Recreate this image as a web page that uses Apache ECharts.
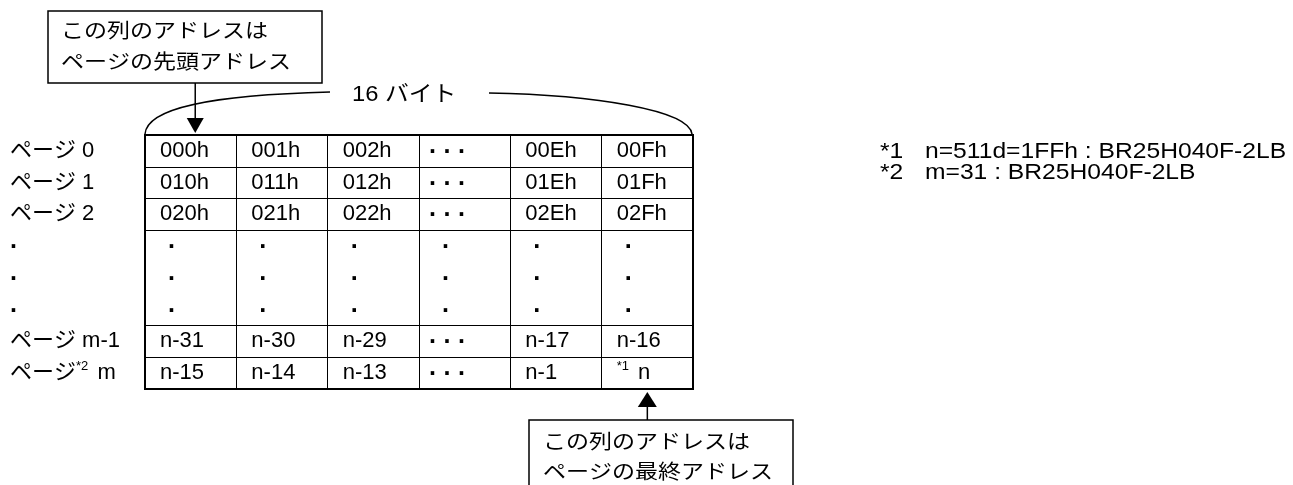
<!DOCTYPE html>
<html>
<head>
<meta charset="utf-8">
<script src="https://cdn.jsdelivr.net/npm/echarts@6/dist/echarts.min.js"></script>
<style>html,body{margin:0;padding:0;background:#fff}#c{width:1293px;height:485px}</style>
</head>
<body>
<div id="c"></div>
<script>
// ---- data ----
const columns = ['col0', 'col1', 'col2', 'col3', 'col4', 'col5'];
const rowLabels = ['ページ 0', 'ページ 1', 'ページ 2', '·', '·', '·', 'ページ m-1', 'ページ*2 m'];
const row0 = ['000h', '001h', '002h', '· · ·', '00Eh', '00Fh'];
const row1 = ['010h', '011h', '012h', '· · ·', '01Eh', '01Fh'];
const row2 = ['020h', '021h', '022h', '· · ·', '02Eh', '02Fh'];
const rowDots = ['·', '·', '·', '·', '·', '·'];
const rowM1 = ['n-31', 'n-30', 'n-29', '· · ·', 'n-17', 'n-16'];
const rowM = ['n-15', 'n-14', 'n-13', '· · ·', 'n-1', '*1 n'];
const cellRows = [row0, row1, row2, rowDots, rowDots, rowDots, rowM1, rowM];
const topNote = ['この列のアドレスは', 'ページの先頭アドレス'];
const bottomNote = ['この列のアドレスは', 'ページの最終アドレス'];
const spanLabel = '16 バイト';
const footnotes = [['*1', 'n=511d=1FFh : BR25H040F-2LB'], ['*2', 'm=31 : BR25H040F-2LB']];

// ---- layout ----
const FONT = "'Liberation Sans', 'Noto Sans CJK JP', Arial, sans-serif";
const G = { left: 145, top: 135, width: 548, height: 254 };
const cw = G.width / columns.length;
const hiddenSplits = [4, 5]; // no line between the three dotted sub-rows

const cellData = [];
const cellTexts = [];
cellRows.forEach((row, r) => row.forEach((t, c) => { cellData.push([c, r]); cellTexts.push(t); }));

function toRich(t) {
  if (t === '·') return '{dot|·}';
  if (t === '· · ·') return '{dot|·}{gap| }{dot|·}{gap| }{dot|·}';
  return t.replace(/\*(\d)/, '{sup|*$1}');
}
const richStyles = {
  sup: { fontSize: 13, fontFamily: FONT, color: '#000', fill: '#000', verticalAlign: 'top', padding: [0, 3, 13, 0] },
  dot: { fontSize: 25, fontWeight: 'bold', fontFamily: FONT, color: '#000', fill: '#000', padding: [4, 0, 0, 0] },
  gap: { fontSize: 22, fontFamily: FONT, color: '#000', fill: '#000' }
};

const chart = echarts.init(document.getElementById('c'), null, { renderer: 'canvas' });

const topArrowX = G.left + cw * 0.55;
const botArrowX = G.left + cw * 5.5;
const gBottom = G.top + G.height;

const graphic = [
  // top callout
  { type: 'rect', shape: { x: 48, y: 11, width: 274, height: 72 }, style: { fill: '#fff', stroke: '#000', lineWidth: 1.5 } },
  { type: 'text', x: 61, y: 32, scaleX: 1.15, style: { text: topNote[0], font: '20px ' + FONT, fill: '#000', verticalAlign: 'middle' } },
  { type: 'text', x: 61, y: 63, scaleX: 1.15, style: { text: topNote[1], font: '20px ' + FONT, fill: '#000', verticalAlign: 'middle' } },
  { type: 'line', shape: { x1: topArrowX, y1: 83, x2: topArrowX, y2: 119 }, style: { stroke: '#000', lineWidth: 1.5 } },
  { type: 'polygon', shape: { points: [[topArrowX - 8.5, 118], [topArrowX + 8.5, 118], [topArrowX, G.top - 2]] }, style: { fill: '#000' } },
  // span brace
  { type: 'bezierCurve', shape: { x1: G.left, y1: G.top - 1, cpx1: G.left + 2, cpy1: 108, cpx2: 210, cpy2: 95, x2: 330, y2: 92 }, style: { stroke: '#000', lineWidth: 1.5, fill: null } },
  { type: 'bezierCurve', shape: { x1: 489, y1: 93, cpx1: 595, cpy1: 95, cpx2: G.left + G.width - 4, cpy2: 110, x2: G.left + G.width - 1, y2: G.top - 1 }, style: { stroke: '#000', lineWidth: 1.5, fill: null } },
  { type: 'text', x: 352, y: 95, scaleX: 1.08, style: { text: spanLabel, font: '22px ' + FONT, fill: '#000', verticalAlign: 'middle' } },
  // bottom callout
  { type: 'line', shape: { x1: botArrowX, y1: 420, x2: botArrowX, y2: 406 }, style: { stroke: '#000', lineWidth: 1.5 } },
  { type: 'polygon', shape: { points: [[botArrowX - 9.5, 407], [botArrowX + 9.5, 407], [botArrowX, gBottom + 3]] }, style: { fill: '#000' } },
  { type: 'rect', shape: { x: 529, y: 420, width: 264, height: 70 }, style: { fill: '#fff', stroke: '#000', lineWidth: 1.5 } },
  { type: 'text', x: 543, y: 443, scaleX: 1.15, style: { text: bottomNote[0], font: '20px ' + FONT, fill: '#000', verticalAlign: 'middle' } },
  { type: 'text', x: 543, y: 473, scaleX: 1.15, style: { text: bottomNote[1], font: '20px ' + FONT, fill: '#000', verticalAlign: 'middle' } }
];
footnotes.forEach((f, i) => {
  graphic.push({ type: 'text', x: 880, y: 152 + i * 21, scaleX: 1.12, style: { text: f[0], font: '22px ' + FONT, fill: '#000', verticalAlign: 'middle' } });
  graphic.push({ type: 'text', x: 925, y: 152 + i * 21, scaleX: 1.12, style: { text: f[1], font: '22px ' + FONT, fill: '#000', verticalAlign: 'middle' } });
});

chart.setOption({
  animation: false,
  backgroundColor: '#fff',
  grid: { left: G.left, top: G.top, width: G.width, height: G.height, show: true, borderColor: '#000', borderWidth: 2, containLabel: false },
  xAxis: {
    type: 'category', data: columns, position: 'top',
    axisLine: { show: false }, axisTick: { show: false }, axisLabel: { show: false },
    splitLine: { show: true, interval: 0, lineStyle: { color: '#000', width: 1 } }
  },
  yAxis: {
    type: 'category', data: rowLabels, inverse: true,
    axisLine: { show: false }, axisTick: { show: false },
    axisLabel: {
      show: true, interval: 0, align: 'left', margin: G.left - 10,
      color: '#000', fontSize: 22, fontFamily: FONT,
      formatter: v => toRich(v),
      rich: richStyles
    },
    splitLine: { show: true, interval: (i) => hiddenSplits.indexOf(i) < 0, lineStyle: { color: '#000', width: 1 } }
  },
  series: [{
    type: 'custom',
    coordinateSystem: 'cartesian2d',
    data: cellData,
    renderItem: (params, api) => {
      const p = api.coord([api.value(0), api.value(1)]);
      const s = api.size([1, 1]);
      const t = cellTexts[params.dataIndex];
      let off = 15;
      if (t === '·') off = 23;
      else if (t === '· · ·') off = 10;
      return {
        type: 'text',
        x: p[0] - s[0] / 2 + off, y: p[1],
        style: {
          text: toRich(t), fill: '#000', font: '22px ' + FONT, verticalAlign: 'middle',
          rich: richStyles
        }
      };
    }
  }],
  graphic: graphic
});
</script>
</body>
</html>
